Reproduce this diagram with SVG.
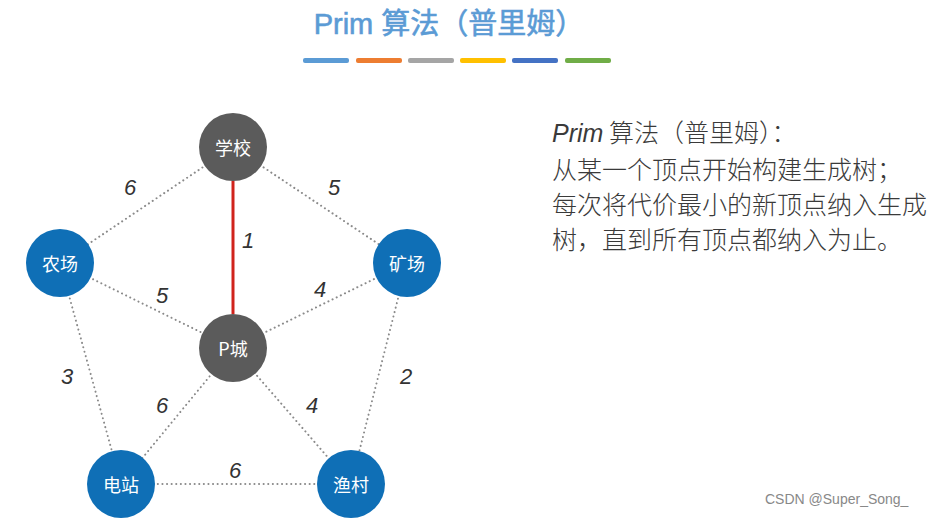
<svg xmlns="http://www.w3.org/2000/svg" width="941" height="518" viewBox="0 0 941 518">
<style>
.dot{stroke:#8a8a8a;stroke-width:2;stroke-dasharray:0.1 4.5;stroke-linecap:round;fill:none}
.red{stroke:#d0231c;stroke-width:3;fill:none}
.gray{fill:#5b5b5b}
.blue{fill:#0f6fb6}
.nt{fill:#fff;font-family:"Noto Sans CJK SC","Liberation Sans",sans-serif;font-size:18px;text-anchor:middle;dominant-baseline:central}
.w{fill:#333;font-family:"Liberation Sans",sans-serif;font-style:italic;font-size:22px;text-anchor:middle;dominant-baseline:central}
.desc{fill:#3a3a3a;font-family:"Noto Sans CJK SC",sans-serif;font-size:25px;font-weight:300}
</style>
<rect width="941" height="518" fill="#fff"/>
<text x="449" y="34" text-anchor="middle" fill="#5b9bd5" stroke="#5b9bd5" stroke-width="0.6" font-family="'Liberation Sans','Noto Sans CJK SC',sans-serif" font-size="29">Prim 算法（普里姆）</text>
<g>
<rect x="303" y="58" width="46" height="5" rx="2" fill="#5b9bd5"/>
<rect x="356" y="58" width="46" height="5" rx="2" fill="#ed7d31"/>
<rect x="408" y="58" width="46" height="5" rx="2" fill="#a5a5a5"/>
<rect x="460" y="58" width="46" height="5" rx="2" fill="#ffc000"/>
<rect x="512" y="58" width="46" height="5" rx="2" fill="#4472c4"/>
<rect x="565" y="58" width="46" height="5" rx="2" fill="#70ad47"/>
</g>
<g id="connectors">
<line class="dot" x1="233" y1="147" x2="60" y2="263"/>
<line class="dot" x1="233" y1="147" x2="407" y2="263"/>
<line class="red" x1="233" y1="181" x2="233" y2="314"/>
<line class="dot" x1="60" y1="263" x2="233" y2="348"/>
<line class="dot" x1="407" y1="263" x2="233" y2="348"/>
<line class="dot" x1="60" y1="263" x2="121" y2="484"/>
<line class="dot" x1="407" y1="263" x2="351" y2="484"/>
<line class="dot" x1="233" y1="348" x2="121" y2="484"/>
<line class="dot" x1="233" y1="348" x2="351" y2="484"/>
<line class="dot" x1="121" y1="484" x2="351" y2="484"/>
<text class="w" x="130" y="187">6</text>
<text class="w" x="334" y="187">5</text>
<text class="w" x="248" y="240">1</text>
<text class="w" x="162" y="295">5</text>
<text class="w" x="320" y="289">4</text>
<text class="w" x="67" y="376">3</text>
<text class="w" x="406" y="376">2</text>
<text class="w" x="162" y="405">6</text>
<text class="w" x="312" y="405">4</text>
<text class="w" x="235" y="470">6</text>
</g>
<g id="school"><circle class="gray" cx="233" cy="147" r="34"/><text class="nt" x="233" y="147">学校</text></g>
<g id="farm"><circle class="blue" cx="60" cy="263" r="34"/><text class="nt" x="60" y="263">农场</text></g>
<g id="mine"><circle class="blue" cx="407" cy="263" r="34"/><text class="nt" x="407" y="263">矿场</text></g>
<g id="pcity"><circle class="gray" cx="233" cy="348" r="34"/><text class="nt" x="233" y="348">P城</text></g>
<g id="power"><circle class="blue" cx="121" cy="484" r="34"/><text class="nt" x="121" y="484">电站</text></g>
<g id="village"><circle class="blue" cx="351" cy="484" r="34"/><text class="nt" x="351" y="484">渔村</text></g>
<g id="desc">
<text class="desc" x="552" y="142"><tspan font-style="italic" font-family="'Liberation Sans',sans-serif">Prim</tspan> 算法（普里姆）：</text>
<text class="desc" x="552" y="179">从某一个顶点开始构建生成树；</text>
<text class="desc" x="552" y="214">每次将代价最小的新顶点纳入生成</text>
<text class="desc" x="552" y="249">树，直到所有顶点都纳入为止。</text>
</g>
<text x="765" y="504" fill="#888" font-family="'Liberation Sans',sans-serif" font-size="14">CSDN @Super_Song_</text>
</svg>
